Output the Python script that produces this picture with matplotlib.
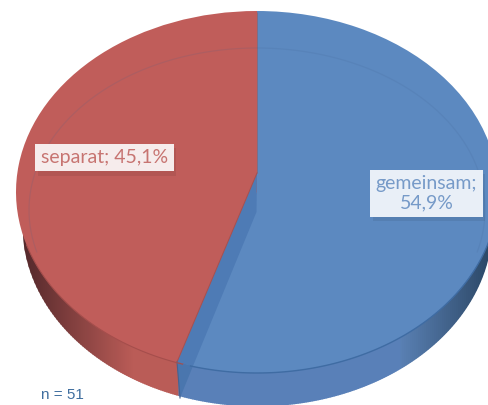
import matplotlib
matplotlib.use("Agg")
import matplotlib.pyplot as plt
import numpy as np
import matplotlib.patheffects as pe
from matplotlib.patches import Polygon

shares = [45.1, 54.9]
label_texts = ["separat; 45,1%", "gemeinsam;\n54,9%"]
colors = ["#C05D5A", "#5C89C0"]

W, H = 488, 405
cx, cy, rx, ry = 257, 192, 241, 181
# lower outline of the wall is a slightly narrower ellipse
low_cy, low_rx = 225, 235


# pixel position -> pie units (pie has radius 1 around 0,0)
def ux(x):
    return (x - cx) / rx


def uy(y):
    return (cy - y) / ry


def wallColor(x):
    if x < 178:
        f = min((x - 22) / 110, 1)
        return np.array([0.33, 0.16, 0.17]) * (1 - f) + np.array([0.73, 0.36, 0.34]) * f
    if x < 400:
        return np.array([0.35, 0.50, 0.72])
    f = (x - 400) / 90
    return np.array([0.35, 0.50, 0.70]) * (1 - f) + np.array([0.17, 0.28, 0.40]) * f


fig = plt.figure(figsize=(W / 100, H / 100), dpi=100)
ax = fig.add_axes([0, 0, 1, 1])

# side wall first, strip by strip for the shading
edges = np.arange(cx - low_rx, cx + low_rx + 1, 2.0)
for x0 in edges[:-1]:
    xs = np.linspace(x0, x0 + 2.5, 4)
    low = low_cy + ry * np.sqrt(np.clip(1 - ((xs - cx) / low_rx) ** 2, 0, 1))
    ax.fill_between(ux(xs), uy(low), uy(cy), color=wallColor(x0), lw=0, zorder=1)

wedges, _ = ax.pie(shares, colors=colors, startangle=90, radius=1,
                   wedgeprops=dict(lw=0, zorder=2))

# cut face of the blue slice
ax.add_patch(Polygon([[ux(257), uy(173)], [ux(177), uy(362)], [ux(193), uy(366)], [ux(256.5), uy(212)]],
                     closed=True, fc="#4E7BB5", ec="none", zorder=3))
ax.add_patch(Polygon([[ux(177), uy(362)], [ux(180), uy(398)], [ux(193), uy(366)]],
                     closed=True, fc="#4A76AE", ec="none", zorder=3))
ax.plot([ux(256.5), ux(256.5)], [uy(12), uy(173)], color="#7D6E85", lw=0.7, zorder=3, solid_capstyle="butt")
ax.plot([ux(257), ux(177)], [uy(173), uy(362)], color="#A8504F", lw=0.7, zorder=3)
ax.plot([ux(177), ux(180)], [uy(362), uy(398)], color="#47628F", lw=0.8, zorder=3)

# front edge of the top face
a = np.radians(np.linspace(197, 252, 60))
ax.plot(np.cos(a), np.sin(a), color="#A54E4C", lw=0.8, zorder=3)
a = np.radians(np.linspace(254, 355, 100))
ax.plot(np.cos(a), np.sin(a), color="#3F6CA3", lw=1.0, zorder=3)

# faint inner rim, upper half only
a = np.radians(np.linspace(-15, 195, 200))
rim_x = 257 + 228 * np.cos(a)
rim_y = 210 - 162 * np.sin(a)
ax.plot(ux(rim_x), uy(rim_y), color="#3F5F8F", alpha=0.14, lw=0.9, zorder=3)

shadow = [pe.withSimplePatchShadow(offset=(2, -3), shadow_rgbFace="k", alpha=0.07)]
t1 = ax.text(ux(104.5), uy(157.5), label_texts[0], family="Lato", fontsize=14, color="#C77471",
             ha="center", va="center", zorder=5,
             bbox=dict(boxstyle="square,pad=0.28", fc="#F6ECEC", ec="none"))
t2 = ax.text(ux(426.5), uy(193.5), label_texts[1], family="Lato", fontsize=14, color="#769AC8",
             ha="center", va="center", linespacing=1.15, zorder=5,
             bbox=dict(boxstyle="square,pad=0.28", fc="#E9EFF7", ec="none"))
t1.get_bbox_patch().set_path_effects(shadow)
t2.get_bbox_patch().set_path_effects(shadow)

ax.text(ux(41), uy(395), "n = 51", family="Liberation Sans", fontsize=11, color="#3F6E9F",
        ha="left", va="center", zorder=5)

ax.set_aspect("auto")
ax.set_xlim(ux(0), ux(W))
ax.set_ylim(uy(H), uy(0))
ax.axis("off")
plt.savefig("out.png", dpi=100)
